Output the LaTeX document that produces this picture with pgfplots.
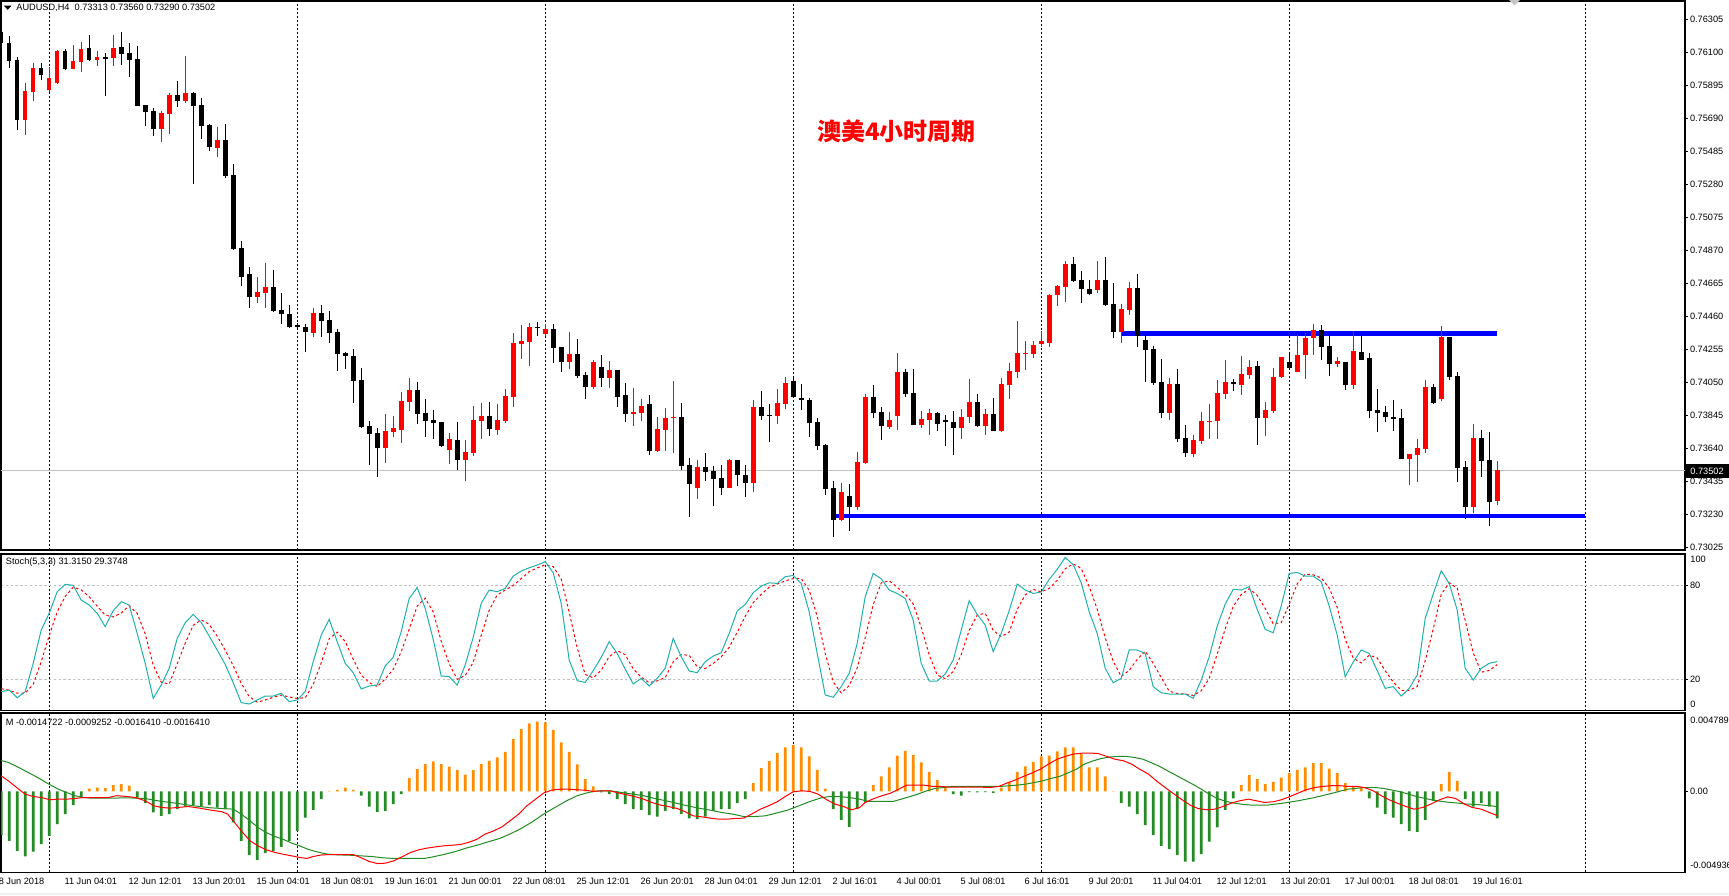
\documentclass[border=0pt]{standalone}
\usepackage{pgfplots}
\pgfplotsset{compat=1.18}
\usepackage{pgfplotstable}
\usepackage{fontspec}
\setmainfont{Liberation Sans}
\newfontfamily\cjk{Noto Sans CJK SC}
\definecolor{mtred}{RGB}{255,0,0}
\definecolor{kline}{RGB}{32,178,170}
\definecolor{horange}{RGB}{255,140,0}
\definecolor{hgreen}{RGB}{34,139,34}
\definecolor{mtblue}{RGB}{0,0,255}
\definecolor{mtsilver}{RGB}{192,192,192}
\newcommand\mt{\fontsize{4.6}{5.5}\selectfont}

\pgfplotstableread{
i o h l c
0 0.76228 0.76263 0.76114 0.76156
1 0.76156 0.76201 0.76005 0.76048
2 0.76052 0.76069 0.75617 0.75682
5 0.76002 0.76034 0.75928 0.75961
8 0.76108 0.76118 0.75990 0.75996
11 0.76127 0.76207 0.76046 0.76052
13 0.76069 0.76098 0.75831 0.76065
15 0.76133 0.76226 0.76021 0.76092
16 0.76096 0.76156 0.75949 0.76052
17 0.76058 0.76139 0.75767 0.75769
18 0.75773 0.75773 0.75642 0.75731
19 0.75735 0.75752 0.75580 0.75626
22 0.75835 0.75924 0.75762 0.75800
24 0.75847 0.75853 0.75284 0.75769
25 0.75773 0.75816 0.75564 0.75642
26 0.75648 0.75653 0.75489 0.75514
28 0.75555 0.75655 0.75321 0.75332
29 0.75338 0.75406 0.74872 0.74878
30 0.74884 0.74928 0.74648 0.74706
31 0.74721 0.74766 0.74514 0.74582
34 0.74644 0.74748 0.74489 0.74495
35 0.74499 0.74607 0.74414 0.74472
36 0.74476 0.74530 0.74389 0.74396
37 0.74402 0.74416 0.74385 0.74400
38 0.74396 0.74412 0.74240 0.74365
40 0.74481 0.74530 0.74334 0.74433
41 0.74437 0.74491 0.74296 0.74358
42 0.74365 0.74379 0.74122 0.74228
43 0.74232 0.74240 0.74135 0.74215
44 0.74213 0.74257 0.73919 0.74060
45 0.74064 0.74139 0.73768 0.73772
46 0.73781 0.73810 0.73538 0.73727
47 0.73735 0.73768 0.73464 0.73644
52 0.74002 0.74050 0.73793 0.73855
53 0.73859 0.73946 0.73712 0.73812
54 0.73816 0.73878 0.73696 0.73799
55 0.73803 0.73803 0.73650 0.73654
57 0.73692 0.73803 0.73505 0.73569
61 0.73841 0.73928 0.73716 0.73762
67 0.74394 0.74423 0.74340 0.74389
69 0.74381 0.74412 0.74172 0.74265
70 0.74269 0.74269 0.74116 0.74178
72 0.74226 0.74319 0.74079 0.74091
73 0.74095 0.74114 0.73948 0.74023
75 0.74143 0.74220 0.74023 0.74079
77 0.74126 0.74126 0.73899 0.73961
78 0.73971 0.74046 0.73806 0.73855
81 0.73915 0.73971 0.73600 0.73625
85 0.73835 0.73921 0.73507 0.73532
86 0.73536 0.73582 0.73215 0.73420
88 0.73524 0.73611 0.73439 0.73495
89 0.73499 0.73530 0.73284 0.73451
90 0.73456 0.73538 0.73352 0.73396
92 0.73567 0.73567 0.73408 0.73474
93 0.73474 0.73536 0.73340 0.73427
95 0.73897 0.73996 0.73818 0.73843
96 0.73845 0.73915 0.73681 0.73843
99 0.74058 0.74083 0.73955 0.73961
100 0.73953 0.74040 0.73880 0.73938
101 0.73940 0.73953 0.73712 0.73799
102 0.73803 0.73828 0.73632 0.73656
103 0.73663 0.73669 0.73352 0.73389
104 0.73394 0.73437 0.73091 0.73197
106 0.73344 0.73418 0.73128 0.73277
109 0.73959 0.74033 0.73830 0.73861
110 0.73866 0.73897 0.73694 0.73781
113 0.74114 0.74133 0.73961 0.73979
114 0.73984 0.74133 0.73787 0.73787
117 0.73859 0.73866 0.73750 0.73793
118 0.73816 0.73847 0.73656 0.73801
119 0.73803 0.73872 0.73600 0.73768
122 0.73928 0.73977 0.73774 0.73781
124 0.73853 0.73953 0.73745 0.73750
134 0.74783 0.74828 0.74673 0.74679
135 0.74686 0.74742 0.74541 0.74628
136 0.74630 0.74686 0.74590 0.74599
138 0.74686 0.74828 0.74524 0.74530
139 0.74537 0.74665 0.74327 0.74365
142 0.74636 0.74723 0.74271 0.74340
143 0.74313 0.74344 0.74054 0.74253
144 0.74257 0.74275 0.74035 0.74048
145 0.74052 0.74195 0.73830 0.73861
147 0.74040 0.74133 0.73681 0.73700
148 0.73704 0.73785 0.73588 0.73613
154 0.74048 0.74071 0.73998 0.74044
157 0.74151 0.74182 0.73663 0.73830
161 0.74176 0.74232 0.74139 0.74139
165 0.74375 0.74406 0.74189 0.74271
166 0.74275 0.74338 0.74089 0.74166
168 0.74176 0.74176 0.74004 0.74035
170 0.74238 0.74338 0.74191 0.74191
171 0.74201 0.74232 0.73830 0.73874
172 0.73878 0.74008 0.73743 0.73861
173 0.73866 0.73903 0.73806 0.73837
174 0.73832 0.73940 0.73750 0.73828
175 0.73828 0.73884 0.73576 0.73576
179 0.74021 0.74040 0.73917 0.73924
181 0.74331 0.74331 0.74066 0.74085
182 0.74089 0.74114 0.73433 0.73520
183 0.73524 0.73561 0.73203 0.73277
185 0.73704 0.73754 0.73464 0.73563
186 0.73567 0.73741 0.73159 0.73309
}\bear

\pgfplotstableread{
i o h l c
3 0.75682 0.75909 0.75588 0.75860
4 0.75856 0.76034 0.75800 0.76002
6 0.75866 0.76011 0.75856 0.75940
7 0.75911 0.76114 0.75903 0.76108
9 0.75998 0.76145 0.75996 0.76046
10 0.76042 0.76162 0.75978 0.76121
12 0.76054 0.76108 0.76017 0.76071
14 0.76067 0.76207 0.76015 0.76127
20 0.75626 0.75735 0.75543 0.75723
21 0.75717 0.75845 0.75592 0.75835
23 0.75800 0.76077 0.75787 0.75847
27 0.75508 0.75636 0.75450 0.75555
32 0.74582 0.74706 0.74545 0.74609
33 0.74607 0.74791 0.74514 0.74644
39 0.74358 0.74512 0.74334 0.74481
48 0.73644 0.73853 0.73551 0.73748
49 0.73743 0.73841 0.73712 0.73766
50 0.73756 0.73990 0.73675 0.73934
51 0.73930 0.74077 0.73874 0.74002
56 0.73632 0.73733 0.73545 0.73698
58 0.73569 0.73692 0.73437 0.73617
59 0.73611 0.73903 0.73594 0.73816
60 0.73812 0.73921 0.73700 0.73841
62 0.73756 0.73915 0.73725 0.73816
63 0.73808 0.74008 0.73799 0.73965
64 0.73961 0.74356 0.73899 0.74294
65 0.74290 0.74406 0.74197 0.74307
66 0.74302 0.74418 0.74153 0.74394
68 0.74352 0.74410 0.74338 0.74379
71 0.74178 0.74363 0.74133 0.74226
74 0.74023 0.74189 0.74011 0.74176
76 0.74079 0.74182 0.74017 0.74126
79 0.73855 0.74015 0.73781 0.73863
80 0.73861 0.73946 0.73810 0.73903
82 0.73625 0.73835 0.73619 0.73760
83 0.73756 0.73890 0.73625 0.73828
84 0.73826 0.74058 0.73613 0.73837
87 0.73396 0.73567 0.73327 0.73524
91 0.73396 0.73574 0.73396 0.73567
94 0.73427 0.73940 0.73371 0.73897
97 0.73843 0.74008 0.73793 0.73921
98 0.73917 0.74083 0.73886 0.74046
105 0.73197 0.73425 0.73190 0.73371
107 0.73277 0.73617 0.73259 0.73555
108 0.73551 0.73977 0.73545 0.73959
111 0.73774 0.73866 0.73762 0.73816
112 0.73843 0.74232 0.73756 0.74114
115 0.73787 0.73872 0.73768 0.73822
116 0.73818 0.73884 0.73725 0.73859
120 0.73768 0.73884 0.73700 0.73835
121 0.73837 0.74071 0.73799 0.73928
123 0.73781 0.73884 0.73725 0.73853
125 0.73748 0.74077 0.73743 0.74040
126 0.74033 0.74170 0.73946 0.74120
127 0.74116 0.74431 0.74079 0.74232
128 0.74230 0.74307 0.74126 0.74232
129 0.74228 0.74307 0.74203 0.74282
130 0.74290 0.74369 0.74271 0.74307
131 0.74296 0.74599 0.74271 0.74592
132 0.74592 0.74655 0.74524 0.74648
133 0.74644 0.74804 0.74551 0.74785
137 0.74626 0.74804 0.74603 0.74686
140 0.74365 0.74537 0.74292 0.74505
141 0.74499 0.74673 0.74468 0.74636
146 0.73861 0.74077 0.73818 0.74040
149 0.73607 0.73723 0.73588 0.73692
150 0.73687 0.73866 0.73669 0.73810
151 0.73806 0.73915 0.73700 0.73812
152 0.73812 0.74064 0.73700 0.73984
153 0.73979 0.74189 0.73948 0.74052
155 0.74033 0.74213 0.73971 0.74102
156 0.74095 0.74189 0.74071 0.74143
158 0.73830 0.73928 0.73719 0.73878
159 0.73874 0.74139 0.73861 0.74085
160 0.74083 0.74207 0.74079 0.74207
162 0.74116 0.74350 0.74116 0.74220
163 0.74222 0.74356 0.74071 0.74325
164 0.74327 0.74412 0.74222 0.74375
167 0.74166 0.74207 0.74145 0.74182
169 0.74035 0.74369 0.74011 0.74244
176 0.73576 0.73605 0.73414 0.73605
177 0.73600 0.73700 0.73433 0.73644
178 0.73638 0.74064 0.73613 0.74021
180 0.73944 0.74400 0.73936 0.74331
184 0.73277 0.73791 0.73240 0.73704
187 0.73313 0.73560 0.73290 0.73502
}\bull

\pgfplotsset{
  mtpanel/.style={
    scale only axis, width=842pt, anchor=north west,
    xmin=-0.025, xmax=210.475,
    axis line style={line width=0.6pt, black},
    xtick={6,37,68,99,130,161,198}, xticklabels={},
    xtick style={draw=none},
    xmajorgrids,
    x grid style={black, line width=0.45pt, dash pattern=on 1pt off 1pt},
    ytick pos=right, yticklabel pos=right,
    tick align=outside, major tick length=1.5pt,
    ytick style={black, line width=0.5pt},
    tick label style={font=\mt, inner sep=0.8pt},
    scaled y ticks=false,
  },
  wick/.style={draw=none, mark=none, error bars/.cd, y dir=both, y explicit,
    error mark=none, error bar style={line width=0.5pt, draw=#1, solid}},
  body/.style={draw=none, mark=none, error bars/.cd, y dir=both, y explicit,
    error mark=none, error bar style={line width=2.3pt, draw=#1, solid}},
}

\begin{document}
\begin{tikzpicture}
\fill[white] (0,0) rectangle (864.5pt,447.5pt);
\useasboundingbox (0,0) rectangle (864.5pt,447.5pt);
\fill[gray!12] (0,0) rectangle (864.5pt,1.2pt);

% ---------------- main price panel ----------------
\begin{axis}[mtpanel, at={(0.5pt,447pt)}, height=274.5pt,
  ymin=0.73008, ymax=0.76419,
  ytick={0.73025,0.73230,0.73435,0.73640,0.73845,0.74050,0.74255,0.74460,0.74665,0.74870,0.75075,0.75280,0.75485,0.75690,0.75895,0.76100,0.76305},
  yticklabels={0.73025,0.73230,0.73435,0.73640,0.73845,0.74050,0.74255,0.74460,0.74665,0.74870,0.75075,0.75280,0.75485,0.75690,0.75895,0.76100,0.76305},
]
\addplot[mtsilver, line width=0.5pt] coordinates {(-1,0.73502) (212,0.73502)};
\addplot[mtblue, line width=2.2pt] coordinates {(140,0.74354) (187,0.74354)};
\addplot[mtblue, line width=2.2pt] coordinates {(104.3,0.73218) (198,0.73218)};
\addplot[wick=black] table[x=i, y expr={0.5*(\thisrow{h}+\thisrow{l})}, y error expr={0.5*(\thisrow{h}-\thisrow{l})}] {\bear};
\addplot[wick=mtred] table[x=i, y expr={0.5*(\thisrow{h}+\thisrow{l})}, y error expr={0.5*(\thisrow{h}-\thisrow{l})}] {\bull};
\addplot[body=black] table[x=i, y expr={0.5*(\thisrow{o}+\thisrow{c})}, y error expr={max(0.5*abs(\thisrow{o}-\thisrow{c}),0.00003)}] {\bear};
\addplot[body=mtred] table[x=i, y expr={0.5*(\thisrow{o}+\thisrow{c})}, y error expr={max(0.5*abs(\thisrow{o}-\thisrow{c}),0.00003)}] {\bull};
\end{axis}

% ---------------- stochastic panel ----------------
\begin{axis}[mtpanel, at={(0.5pt,170.5pt)}, height=78.3pt,
  ymin=0, ymax=100, ytick={20,80}, yticklabels={20,80},
  ymajorgrids, y grid style={mtsilver, line width=0.5pt, dash pattern=on 1.2pt off 1.2pt},
]
\addplot[mtred, line width=0.5pt, dash pattern=on 1.3pt off 1.3pt] coordinates {
(0,14.0)(1,13.0)(2,11.1)(3,11.1)(4,16.8)(5,31.2)(6,47.9)(7,63.1)(8,72.9)(9,78.8)(10,77.1)(11,72.7)(12,66.7)(13,61.0)(14,59.8)(15,62.3)(16,66.9)(17,62.1)(18,49.0)(19,29.1)(20,18.1)(21,17.0)(22,29.8)(23,43.1)(24,54.5)(25,57.9)(26,55.1)(27,47.5)(28,38.6)(29,28.7)(30,17.5)(31,9.0)(32,5.4)(33,6.8)(34,8.5)(35,9.9)(36,8.7)(37,7.8)(38,8.2)(39,16.7)(40,30.5)(41,45.9)(42,50.1)(43,44.1)(44,32.8)(45,22.7)(46,17.9)(47,15.3)(48,20.2)(49,26.3)(50,37.6)(51,52.0)(52,66.8)(53,71.8)(54,63.1)(55,44.3)(56,29.8)(57,20.0)(58,22.4)(59,30.7)(60,48.1)(61,64.1)(62,73.8)(63,77.0)(64,79.9)(65,84.3)(66,88.7)(67,91.1)(68,93.1)(69,92.0)(70,83.9)(71,62.9)(72,40.0)(73,23.1)(74,20.9)(75,25.8)(76,34.5)(77,38.2)(78,35.7)(79,26.7)(80,21.4)(81,17.8)(82,19.0)(83,21.1)(84,31.2)(85,35.8)(86,35.3)(87,28.0)(88,26.9)(89,30.1)(90,34.3)(91,40.4)(92,50.0)(93,60.2)(94,68.9)(95,74.2)(96,78.8)(97,80.8)(98,82.8)(99,84.3)(100,84.3)(101,76.9)(102,60.3)(103,36.5)(104,18.3)(105,11.3)(106,15.9)(107,27.3)(108,46.5)(109,67.7)(110,81.5)(111,82.9)(112,78.7)(113,74.5)(114,68.1)(115,53.2)(116,35.6)(117,22.7)(118,20.4)(119,24.9)(120,35.7)(121,51.3)(122,61.0)(123,62.1)(124,51.2)(125,47.2)(126,50.2)(127,64.6)(128,73.9)(129,77.5)(130,75.8)(131,78.1)(132,83.2)(133,90.6)(134,93.7)(135,90.8)(136,79.3)(137,64.7)(138,46.5)(139,31.4)(140,21.8)(141,25.7)(142,32.7)(143,38.0)(144,30.2)(145,21.1)(146,12.4)(147,10.9)(148,10.6)(149,9.7)(150,12.6)(151,20.6)(152,36.0)(153,52.1)(154,66.5)(155,74.1)(156,77.8)(157,73.6)(158,65.2)(159,55.4)(160,56.1)(161,68.0)(162,80.9)(163,87.2)(164,86.7)(165,84.7)(166,78.3)(167,65.8)(168,45.5)(169,33.6)(170,30.4)(171,35.4)(172,33.6)(173,25.4)(174,18.3)(175,12.9)(176,12.9)(177,15.4)(178,31.9)(179,52.0)(180,74.2)(181,81.6)(182,78.2)(183,57.5)(184,36.9)(185,24.5)(186,25.6)(187,29.4)};
\addplot[kline, line width=0.5pt] coordinates {
(0,12.1)(1,13.1)(2,8.2)(3,12.1)(4,30.2)(5,51.4)(6,62.1)(7,75.9)(8,80.6)(9,80.0)(10,70.6)(11,67.4)(12,62.1)(13,53.6)(14,63.8)(15,69.5)(16,67.4)(17,49.3)(18,30.2)(19,7.8)(20,16.3)(21,27.0)(22,46.1)(23,56.1)(24,61.4)(25,56.3)(26,47.6)(27,38.7)(28,29.5)(29,17.8)(30,5.1)(31,4.2)(32,6.8)(33,9.3)(34,9.3)(35,11.0)(36,5.7)(37,6.8)(38,12.1)(39,31.2)(40,48.2)(41,58.2)(42,44.0)(43,30.2)(44,24.2)(45,13.8)(46,15.7)(47,16.3)(48,28.5)(49,34.0)(50,50.4)(51,71.6)(52,78.5)(53,65.3)(54,45.5)(55,22.1)(56,21.7)(57,16.3)(58,29.1)(59,46.8)(60,68.5)(61,77.0)(62,75.9)(63,78.0)(64,85.9)(65,89.1)(66,91.2)(67,92.9)(68,95.1)(69,88.0)(70,68.5)(71,32.3)(72,19.1)(73,18.0)(74,25.5)(75,34.0)(76,44.0)(77,36.5)(78,26.5)(79,17.0)(80,20.6)(81,15.7)(82,20.6)(83,27.0)(84,46.1)(85,34.4)(86,25.3)(87,24.2)(88,31.2)(89,34.8)(90,37.0)(91,49.3)(92,63.6)(93,67.8)(94,75.3)(95,79.5)(96,81.6)(97,81.2)(98,85.5)(99,86.3)(100,81.2)(101,63.1)(102,36.5)(103,10.0)(104,8.5)(105,15.3)(106,23.8)(107,42.9)(108,72.7)(109,87.6)(110,84.2)(111,77.0)(112,74.8)(113,71.6)(114,57.8)(115,30.2)(116,18.9)(117,18.9)(118,23.4)(119,32.3)(120,51.4)(121,70.2)(122,61.4)(123,54.6)(124,37.6)(125,49.3)(126,63.8)(127,80.8)(128,77.0)(129,74.8)(130,75.7)(131,83.8)(132,90.2)(133,97.8)(134,93.1)(135,81.6)(136,63.1)(137,49.3)(138,27.0)(139,17.8)(140,20.6)(141,38.7)(142,38.7)(143,36.5)(144,15.3)(145,11.4)(146,10.6)(147,10.6)(148,10.6)(149,7.8)(150,19.5)(151,34.4)(152,54.0)(153,68.0)(154,77.4)(155,77.0)(156,79.1)(157,64.6)(158,51.9)(159,49.7)(160,66.8)(161,87.6)(162,88.2)(163,85.9)(164,85.9)(165,82.3)(166,66.8)(167,48.2)(168,21.6)(169,31.0)(170,38.7)(171,36.5)(172,25.5)(173,14.2)(174,15.3)(175,9.3)(176,14.2)(177,22.7)(178,58.9)(179,74.4)(180,89.3)(181,81.2)(182,64.2)(183,27.0)(184,19.5)(185,27.0)(186,30.2)(187,31.3)};
\end{axis}

% ---------------- MACD panel ----------------
\begin{axis}[mtpanel, at={(0.5pt,91pt)}, height=79.65pt,
  ymin=-0.004936, ymax=0.004789, ytick={0}, yticklabels={0.00},
]
\addplot[ybar, bar width=1.3pt, bar shift=0pt, fill=hgreen, draw=none] coordinates {
(0,-0.00267)(1,-0.00301)(2,-0.00362)(3,-0.00397)(4,-0.00368)(5,-0.00322)(6,-0.00271)(7,-0.00199)(8,-0.00138)(9,-0.00083)(10,-0.00037)
(17,-0.00037)(18,-0.00071)(19,-0.00128)(20,-0.00149)(21,-0.00138)(22,-0.00108)(23,-0.00092)(24,-0.00083)(25,-0.00092)(26,-0.00083)(27,-0.00098)(28,-0.00108)(29,-0.00189)(30,-0.00301)(31,-0.00389)(32,-0.00417)(33,-0.00376)(34,-0.00362)(35,-0.00338)(36,-0.00301)(37,-0.00240)(38,-0.00159)(39,-0.00112)(40,-0.00047)
(45,-0.00026)(46,-0.00092)(47,-0.00124)(48,-0.00118)(49,-0.00077)(50,-0.00016)
(75,-0.00006)(76,-0.00016)(77,-0.00047)(78,-0.00077)(79,-0.00108)(80,-0.00112)(81,-0.00144)(82,-0.00153)(83,-0.00118)(84,-0.00108)(85,-0.00138)(86,-0.00165)(87,-0.00169)(88,-0.00153)(89,-0.00118)(90,-0.00108)(91,-0.00108)(92,-0.00071)(93,-0.00047)
(104,-0.00108)(105,-0.00173)(106,-0.00216)(107,-0.00108)(108,-0.00067)
(119,-0.00016)(120,-0.00026)(121,-0.00004)(122,-0.00006)(123,-0.00004)(124,-0.00008)
(140,-0.00071)(141,-0.00092)(142,-0.00138)(143,-0.00206)(144,-0.00267)(145,-0.00332)(146,-0.00352)(147,-0.00389)(148,-0.00429)(149,-0.00429)(150,-0.00383)(151,-0.00307)(152,-0.00220)(153,-0.00112)(154,-0.00043)
(171,-0.00043)(172,-0.00098)(173,-0.00138)(174,-0.00159)(175,-0.00199)(176,-0.00240)(177,-0.00246)(178,-0.00173)(179,-0.00057)
(183,-0.00047)(184,-0.00092)(185,-0.00071)(186,-0.00092)(187,-0.00164)};
\addplot[ybar, bar width=1.3pt, bar shift=0pt, fill=horange, draw=none] coordinates {
(11,0.00018)(12,0.00024)(13,0.00020)(14,0.00039)(15,0.00045)(16,0.00035)
(41,0.00004)(42,0.00010)(43,0.00024)(44,0.00010)
(51,0.00081)(52,0.00136)(53,0.00167)(54,0.00183)(55,0.00167)(56,0.00151)(57,0.00130)(58,0.00102)(59,0.00130)(60,0.00167)(61,0.00187)(62,0.00208)(63,0.00242)(64,0.00319)(65,0.00381)(66,0.00415)(67,0.00427)(68,0.00421)(69,0.00376)(70,0.00299)(71,0.00242)(72,0.00165)(73,0.00075)(74,0.00031)
(94,0.00051)(95,0.00142)(96,0.00185)(97,0.00234)(98,0.00269)(99,0.00283)(100,0.00269)(101,0.00214)(102,0.00132)(103,0.00018)
(109,0.00039)(110,0.00092)(111,0.00147)(112,0.00218)(113,0.00248)(114,0.00222)(115,0.00177)(116,0.00120)(117,0.00069)(118,0.00031)
(125,0.00024)(126,0.00059)(127,0.00120)(128,0.00153)(129,0.00181)(130,0.00214)(131,0.00218)(132,0.00244)(133,0.00269)(134,0.00269)(135,0.00228)(136,0.00147)(137,0.00147)(138,0.00092)(139,0.00002)
(155,0.00039)(156,0.00100)(157,0.00075)(158,0.00045)(159,0.00059)(160,0.00085)(161,0.00112)(162,0.00132)(163,0.00147)(164,0.00173)(165,0.00173)(166,0.00140)(167,0.00112)(168,0.00051)(169,0.00031)(170,0.00024)
(180,0.00045)(181,0.00120)(182,0.00065)};
\addplot[hgreen, line width=0.5pt] coordinates {
(-0.15,0.00191)(0.89,0.00177)(1.93,0.00153)(2.97,0.00126)(4.0,0.00100)(5.05,0.00071)(6.09,0.00041)(7.13,0.00014)(8.17,-0.00006)(9.21,-0.00026)(10.25,-0.00037)(11.3,-0.00041)(13.4,-0.00041)(15.8,-0.00039)(18.0,-0.00043)(19.1,-0.00053)(20.1,-0.00061)(21.1,-0.00067)(22.0,-0.00073)(23.4,-0.00083)(24.8,-0.00092)(26.2,-0.00100)(27.6,-0.00104)(29.0,-0.00108)(30.0,-0.00138)(31.1,-0.00179)(32.1,-0.00220)(33.1,-0.00250)(34.2,-0.00275)(35.2,-0.00291)(36.3,-0.00315)(37.3,-0.00332)(38.3,-0.00352)(39.4,-0.00368)(40.8,-0.00383)(42.1,-0.00387)(43.5,-0.00389)(44.9,-0.00393)(46.3,-0.00397)(47.7,-0.00405)(49.1,-0.00409)(52.9,-0.00409)(54.0,-0.00399)(55.3,-0.00385)(56.7,-0.00368)(58.1,-0.00346)(59.5,-0.00328)(60.9,-0.00307)(62.3,-0.00287)(63.6,-0.00260)(65.0,-0.00226)(66.4,-0.00185)(67.8,-0.00138)(69.2,-0.00098)(70.6,-0.00059)(72.0,-0.00026)(73.4,-0.00006)(74.7,0.00004)(76.1,0.00004)(77.5,-0.00006)(78.9,-0.00016)(80.3,-0.00026)(81.7,-0.00043)(83.1,-0.00057)(84.5,-0.00073)(85.8,-0.00088)(87.2,-0.00102)(88.6,-0.00114)(90.0,-0.00128)(91.4,-0.00138)(92.8,-0.00153)(94.2,-0.00153)(95.5,-0.00149)(96.9,-0.00132)(98.3,-0.00114)(99.7,-0.00088)(101.1,-0.00061)(102.5,-0.00039)(103.5,-0.00031)(104.6,-0.00031)(106.0,-0.00037)(107.3,-0.00047)(108.4,-0.00061)(109.4,-0.00061)(110.5,-0.00061)(111.5,-0.00061)(112.5,-0.00047)(113.6,-0.00031)(114.6,-0.00016)(115.7,0.00004)(116.7,0.00018)(117.7,0.00024)(118.8,0.00031)(125.0,0.00031)(126.0,0.00035)(127.1,0.00039)(128.1,0.00045)(129.2,0.00055)(130.2,0.00065)(131.2,0.00079)(132.3,0.00092)(133.3,0.00112)(134.4,0.00136)(135.4,0.00167)(136.5,0.00187)(137.5,0.00201)(138.5,0.00210)(139.6,0.00214)(140.6,0.00214)(141.6,0.00208)(142.7,0.00197)(143.7,0.00177)(144.8,0.00153)(145.8,0.00126)(146.8,0.00100)(147.9,0.00071)(148.9,0.00045)(150.0,0.00014)(151.0,-0.00016)(152.0,-0.00043)(153.1,-0.00061)(154.1,-0.00071)(155.2,-0.00079)(156.2,-0.00083)(158.3,-0.00083)(160.0,-0.00073)(162.1,-0.00057)(164.2,-0.00037)(166.3,-0.00012)(168.3,0.00014)(170.4,0.00024)(171.8,0.00024)(172.8,0.00018)(173.9,0.00008)(174.9,-0.00002)(175.9,-0.00016)(176.9,-0.00031)(178.0,-0.00043)(179.0,-0.00053)(180.1,-0.00061)(181.1,-0.00067)(182.1,-0.00071)(183.2,-0.00077)(184.2,-0.00079)(185.2,-0.00083)(186.3,-0.00088)(187.0,-0.00093)};
\addplot[mtred, line width=0.5pt] coordinates {
(-0.15,0.00100)(0.89,0.00065)(1.93,0.00024)(2.97,-0.00016)(4.0,-0.00031)(5.05,-0.00037)(6.09,-0.00051)(7.13,-0.00047)(8.17,-0.00047)(9.21,-0.00043)(10.25,-0.00037)(11.3,-0.00037)(12.3,-0.00037)(13.4,-0.00037)(14.4,-0.00026)(15.8,-0.00031)(16.8,-0.00037)(18.0,-0.00057)(19.1,-0.00088)(20.1,-0.00098)(21.1,-0.00102)(22.0,-0.00098)(23.4,-0.00092)(24.8,-0.00102)(26.2,-0.00114)(27.6,-0.00124)(28.3,-0.00138)(29.0,-0.00179)(30.0,-0.00240)(31.1,-0.00301)(32.1,-0.00332)(33.1,-0.00356)(34.2,-0.00372)(35.2,-0.00383)(36.3,-0.00393)(37.3,-0.00403)(38.2,-0.00409)(39.0,-0.00397)(40.1,-0.00387)(41.5,-0.00385)(42.8,-0.00385)(44.0,-0.00385)(44.9,-0.00403)(46.0,-0.00427)(47.0,-0.00440)(48.0,-0.00438)(49.1,-0.00423)(50.1,-0.00399)(51.2,-0.00372)(52.2,-0.00356)(53.2,-0.00346)(54.3,-0.00338)(55.3,-0.00332)(56.4,-0.00328)(57.4,-0.00324)(58.4,-0.00311)(59.5,-0.00291)(60.5,-0.00260)(61.6,-0.00240)(62.6,-0.00216)(63.6,-0.00179)(64.7,-0.00138)(65.7,-0.00088)(66.8,-0.00047)(67.8,-0.00010)(68.8,0.00008)(69.9,0.00014)(70.9,0.00014)(72.0,0.00010)(73.0,0.00008)(74.0,0.00000)(75.1,0.00004)(76.1,0.00004)(77.2,-0.00010)(78.2,-0.00020)(79.2,-0.00031)(80.3,-0.00047)(81.3,-0.00067)(82.4,-0.00083)(83.4,-0.00092)(84.5,-0.00104)(85.5,-0.00124)(86.5,-0.00149)(87.6,-0.00155)(88.6,-0.00163)(89.7,-0.00169)(90.7,-0.00169)(91.7,-0.00165)(92.8,-0.00163)(93.8,-0.00138)(94.9,-0.00108)(95.9,-0.00088)(97.0,-0.00063)(98.0,-0.00031)(99.0,-0.00002)(100.1,0.00004)(101.1,0.00000)(102.1,-0.00016)(103.2,-0.00051)(104.2,-0.00077)(105.3,-0.00092)(106.3,-0.00112)(107.3,-0.00098)(108.0,-0.00067)(109.1,-0.00043)(110.1,-0.00026)(111.2,-0.00010)(112.2,0.00014)(113.2,0.00039)(114.3,0.00039)(115.3,0.00039)(116.4,0.00031)(117.4,0.00031)(118.4,0.00026)(119.5,0.00026)(120.5,0.00026)(121.6,0.00026)(122.6,0.00026)(123.6,0.00024)(124.7,0.00031)(125.7,0.00051)(126.8,0.00071)(127.8,0.00092)(128.8,0.00112)(129.9,0.00136)(130.9,0.00167)(132.0,0.00197)(133.0,0.00214)(134.0,0.00228)(135.1,0.00234)(136.1,0.00234)(137.1,0.00232)(138.2,0.00214)(139.2,0.00197)(140.3,0.00187)(141.3,0.00167)(142.3,0.00136)(143.4,0.00106)(144.4,0.00065)(145.5,0.00024)(146.5,-0.00012)(147.5,-0.00047)(148.6,-0.00083)(149.6,-0.00104)(150.7,-0.00112)(151.7,-0.00108)(152.7,-0.00092)(153.8,-0.00071)(154.8,-0.00057)(155.9,-0.00047)(156.9,-0.00057)(157.9,-0.00067)(159.0,-0.00063)(160.0,-0.00051)(161.1,-0.00031)(162.1,-0.00010)(163.1,0.00010)(164.2,0.00024)(165.2,0.00031)(166.3,0.00035)(167.3,0.00035)(168.3,0.00031)(169.4,0.00031)(170.4,0.00024)(171.5,0.00004)(172.5,-0.00026)(173.5,-0.00051)(174.6,-0.00073)(175.6,-0.00092)(176.6,-0.00108)(177.7,-0.00098)(178.7,-0.00077)(179.8,-0.00051)(180.8,-0.00033)(181.8,-0.00043)(182.9,-0.00077)(183.9,-0.00098)(185.0,-0.00108)(186.0,-0.00128)(187.0,-0.00147)};
\end{axis}

% ---------------- texts ----------------
\fill[black] (1.9pt,444.7pt) -- (5.8pt,444.7pt) -- (3.85pt,442.6pt) -- cycle;
\node[anchor=west, inner sep=0pt, font=\mt] at (8pt,443.7pt) {AUDUSD,H4\ \ 0.73313 0.73560 0.73290 0.73502};
\fill[gray!45] (754.5pt,447.5pt) -- (760pt,447.5pt) -- (757.25pt,444.8pt) -- cycle;
\node[text=mtred, font=\cjk\bfseries\fontsize{12}{14}\selectfont, inner sep=0pt] at (448.3pt,381.6pt) {澳美4小时周期};
\node[anchor=west, inner sep=0pt, font=\mt] at (2.75pt,166.6pt) {Stoch(5,3,3) 31.3150 29.3748};
\node[anchor=west, inner sep=0pt, font=\mt] at (2.75pt,86.1pt) {M -0.0014722 -0.0009252 -0.0016410 -0.0016410};
% right-hand labels
\fill[black] (843pt,208.5pt) rectangle (864.5pt,215.5pt);
\node[anchor=west, inner sep=0pt, font=\mt, text=white] at (845pt,212pt) {0.73502};
\node[anchor=west, inner sep=0pt, font=\mt] at (845pt,167.8pt) {100};
\node[anchor=west, inner sep=0pt, font=\mt] at (845pt,95.3pt) {0};
\node[anchor=west, inner sep=0pt, font=\mt] at (845pt,87.5pt) {0.004789};
\node[anchor=west, inner sep=0pt, font=\mt] at (845pt,14.6pt) {-0.004936};
% date labels
\node[anchor=west, inner sep=0pt, font=\mt] at (-0.8pt,6.65pt) {8 Jun 2018};
\foreach \b/\t in {7/11 Jun 04:01,15/12 Jun 12:01,23/13 Jun 20:01,31/15 Jun 04:01,39/18 Jun 08:01,47/19 Jun 16:01,55/21 Jun 00:01,63/22 Jun 08:01,71/25 Jun 12:01,79/26 Jun 20:01,87/28 Jun 04:01,95/29 Jun 12:01,103/2 Jul 16:01,111/4 Jul 00:01,119/5 Jul 08:01,127/6 Jul 16:01,135/9 Jul 20:01,143/11 Jul 04:01,151/12 Jul 12:01,159/13 Jul 20:01,167/17 Jul 00:01,175/18 Jul 08:01,183/19 Jul 16:01}
  \node[anchor=west, inner sep=0pt, font=\mt] at ({4.1pt+4pt*\b},6.65pt) {\t};
\end{tikzpicture}
\end{document}
